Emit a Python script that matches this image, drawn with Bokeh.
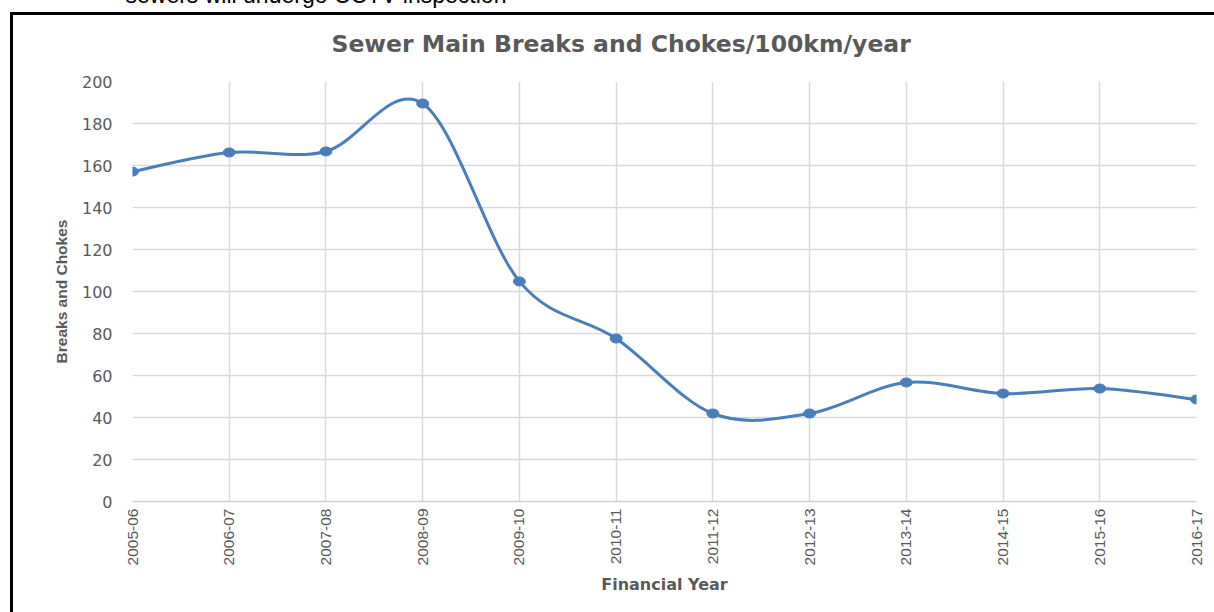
import math
from bokeh.plotting import figure
from bokeh.models import Range1d, FixedTicker, Title, ColumnDataSource
from bokeh.embed import file_html
from bokeh.resources import INLINE

# ---------------- data ----------------
years = ["2005-06", "2006-07", "2007-08", "2008-09", "2009-10", "2010-11",
         "2011-12", "2012-13", "2013-14", "2014-15", "2015-16", "2016-17"]
breaks = [157.1, 166.2, 166.7, 189.5, 104.8, 77.6, 41.9, 41.9, 56.7, 51.4, 53.8, 48.6]
y_ticks = [0, 20, 40, 60, 80, 100, 120, 140, 160, 180, 200]
title_text = "Sewer Main Breaks and Chokes/100km/year"
x_title = "Financial Year"
y_title = "Breaks and Chokes"
page_note = "sewers will undergo CCTV inspection"

S = 20                      # part of the canvas hidden above the window
W, H = 1214, 612 + S
GREY = "#595959"
BLUE = "#4a7ebb"

xs = list(range(len(years)))
n = len(xs)

# Excel-style smoothing: Catmull-Rom segments expressed as cubic Beziers
seg = dict(x0=[], y0=[], x1=[], y1=[], cx0=[], cy0=[], cx1=[], cy1=[])
for i in range(n - 1):
    a = max(i - 1, 0)
    d = min(i + 2, n - 1)
    seg["x0"].append(xs[i]); seg["y0"].append(breaks[i])
    seg["x1"].append(xs[i + 1]); seg["y1"].append(breaks[i + 1])
    seg["cx0"].append(xs[i] + (xs[i + 1] - xs[a]) / 6.0)
    seg["cy0"].append(breaks[i] + (breaks[i + 1] - breaks[a]) / 6.0)
    seg["cx1"].append(xs[i + 1] - (xs[d] - xs[i]) / 6.0)
    seg["cy1"].append(breaks[i + 1] - (breaks[d] - breaks[i]) / 6.0)

p = figure(width=W, height=H, output_backend="svg", toolbar_location=None,
           x_range=Range1d(0, n - 1), y_range=Range1d(0, 200),
           min_border_left=132, min_border_right=18,
           min_border_top=81 + S, min_border_bottom=111)
p.outline_line_color = None
p.background_fill_color = None
p.border_fill_color = None
# document box border (top and left edges) drawn behind the transparent canvas
p.styles = {
    "margin-top": f"-{S}px",
    "background": (f"linear-gradient(#000,#000) 10px {12 + S}px / 3px 100% no-repeat, "
                   f"linear-gradient(#000,#000) 10px {12 + S}px / 100% 3px no-repeat, #fff"),
}

# clipped document line above the chart (outermost title)
p.title.text = page_note
p.title.align = "left"
p.title.offset = -7
p.title.standoff = -9
p.title.text_font = "Liberation Sans"
p.title.text_font_style = "normal"
p.title.text_font_size = "23px"
p.title.text_color = "black"

# chart title (closest to the frame)
p.add_layout(Title(text=title_text, align="left", offset=199, standoff=48,
                   text_font="DejaVu Sans", text_font_style="bold",
                   text_font_size="23.5px", text_color=GREY), "above")

# axes
p.xaxis.ticker = FixedTicker(ticks=xs)
p.xaxis.major_label_overrides = {i: y for i, y in enumerate(years)}
p.xaxis.major_label_orientation = math.pi / 2
p.xaxis.major_tick_out = 0
p.xaxis.major_tick_in = 0
p.xaxis.major_label_standoff = 7
p.xaxis.major_label_text_font = "Liberation Sans"
p.xaxis.major_label_text_font_size = "15.5px"
p.xaxis.major_label_text_color = GREY
p.xaxis.axis_line_color = "#d0d0d0"
p.xaxis.axis_line_width = 1.5
p.xaxis.major_tick_line_color = None
p.xaxis.minor_tick_line_color = None
p.xaxis.axis_label = x_title
p.xaxis.axis_label_text_font = "DejaVu Sans"
p.xaxis.axis_label_text_font_style = "bold"
p.xaxis.axis_label_text_font_size = "16px"
p.xaxis.axis_label_text_color = GREY
p.xaxis.axis_label_standoff = 7

p.yaxis.ticker = FixedTicker(ticks=y_ticks)
p.yaxis.major_tick_out = 0
p.yaxis.major_tick_in = 0
p.yaxis.major_label_standoff = 20
p.yaxis.major_label_text_font = "DejaVu Sans"
p.yaxis.major_label_text_font_size = "16px"
p.yaxis.major_label_text_color = GREY
p.yaxis.axis_line_color = None
p.yaxis.major_tick_line_color = None
p.yaxis.minor_tick_line_color = None
p.yaxis.axis_label = y_title
p.yaxis.axis_label_text_font = "Liberation Sans"
p.yaxis.axis_label_text_font_style = "bold"
p.yaxis.axis_label_text_font_size = "15.5px"
p.yaxis.axis_label_text_color = GREY
p.yaxis.axis_label_standoff = 9

p.xgrid.ticker = FixedTicker(ticks=xs)
p.xgrid.grid_line_color = "#d9d9d9"
p.xgrid.grid_line_width = 1.5
p.ygrid.ticker = FixedTicker(ticks=y_ticks)
p.ygrid.grid_line_color = "#d9d9d9"
p.ygrid.grid_line_width = 1.5

# smoothed line + markers
p.bezier(x0="x0", y0="y0", x1="x1", y1="y1", cx0="cx0", cy0="cy0", cx1="cx1", cy1="cy1",
         source=ColumnDataSource(seg), line_color=BLUE, line_width=3)
p.ellipse(x=xs, y=breaks, width=12, height=9, width_units="screen", height_units="screen",
          fill_color=BLUE, line_color=BLUE)

open("out.html", "w").write(file_html(p, INLINE))
